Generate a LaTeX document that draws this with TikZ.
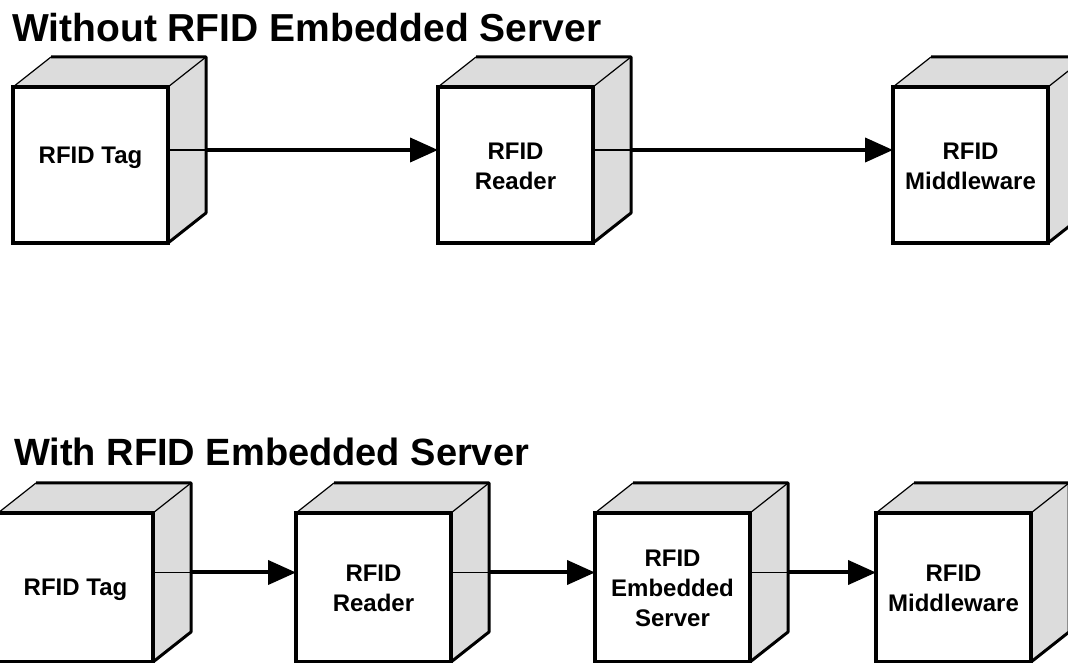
\documentclass[tikz,border=0pt]{standalone}
\usepackage{fontspec}
\setmainfont{Liberation Sans}
\usetikzlibrary{arrows.meta,calc,backgrounds}
\definecolor{sidegray}{HTML}{DCDCDC}
\tikzset{
 front/.style={draw=black, line width=4pt, fill=white, minimum width=155pt, inner sep=0pt, outer sep=0pt},
 boxtext/.style={align=center, font=\fontsize{24}{30}\selectfont\bfseries, inner sep=0pt},
 thinedge/.style={line width=1.2pt},
 thickedge/.style={line width=3pt, line join=round},
 conn/.style={line width=4pt, -{Triangle[length=28pt,width=24pt]}},
 titletext/.style={anchor=base west, inner sep=0pt},
}
\newcommand{\cubefaces}[1]{%
 \begin{scope}[on background layer]
 \fill[sidegray] (#1.north west) -- ++(38,30) -- ($(#1.north east)+(38,30)$) -- (#1.north east) -- cycle;
 \fill[sidegray] (#1.north east) -- ++(38,30) -- ($(#1.south east)+(38,30)$) -- (#1.south east) -- cycle;
 \draw[thinedge] (#1.north west) -- ++(38,30);
 \draw[thinedge] (#1.north east) -- ++(38,30);
 \draw[thickedge] ($(#1.north west)+(38,30)$) -- ($(#1.north east)+(38,30)$) -- ($(#1.south east)+(38,30)$) -- (#1.south east);
 \end{scope}
 \coordinate (#1-mid) at ($(#1.east)+(0,15)$);
 \coordinate (#1-out) at ($(#1.east)+(38,15)$);
 \coordinate (#1-in) at ($(#1.west)+(0,15)$);
}
\newcommand{\linkcubes}[2]{%
 \draw[thinedge] (#1-mid) -- (#1-out);
 \draw[conn] (#1-out) -- (#2-in);
}
\begin{document}
\begin{tikzpicture}[x=1pt,y=1pt]
\useasboundingbox (0,0) rectangle (1068,663);

% ---- top: without embedded server ----
\node[titletext, font=\fontsize{39}{45}\selectfont\bfseries] (title1) at (12,621) {Without RFID Embedded Server};

\node[front, minimum height=156pt] (a1) at (90.5,498) {};
\node[boxtext] (a1t) at (90.5,505) {RFID Tag};
\cubefaces{a1}

\node[front, minimum height=156pt] (a2) at (515.5,498) {};
\node[boxtext] (a2t) at (515.5,497) {RFID\\Reader};
\cubefaces{a2}

\node[front, minimum height=156pt] (a3) at (970.5,498) {};
\node[boxtext] (a3t) at (970.5,497) {RFID\\Middleware};
\cubefaces{a3}

\linkcubes{a1}{a2}
\linkcubes{a2}{a3}

% ---- bottom: with embedded server ----
\node[titletext, font=\fontsize{38}{44}\selectfont\bfseries] (title2) at (14,197) {With RFID Embedded Server};

\node[front, minimum height=149pt] (b1) at (75.5,75.5) {};
\node[boxtext] (b1t) at (75.5,73.5) {RFID Tag};
\cubefaces{b1}

\node[front, minimum height=149pt] (b2) at (373.5,75.5) {};
\node[boxtext] (b2t) at (373.5,74.5) {RFID\\Reader};
\cubefaces{b2}

\node[front, minimum height=149pt] (b3) at (672.5,75.5) {};
\node[boxtext] (b3t) at (672.5,74.5) {RFID\\Embedded\\Server};
\cubefaces{b3}

\node[front, minimum height=149pt] (b4) at (953.5,75.5) {};
\node[boxtext] (b4t) at (953.5,74.5) {RFID\\Middleware};
\cubefaces{b4}

\linkcubes{b1}{b2}
\linkcubes{b2}{b3}
\linkcubes{b3}{b4}
\end{tikzpicture}
\end{document}
